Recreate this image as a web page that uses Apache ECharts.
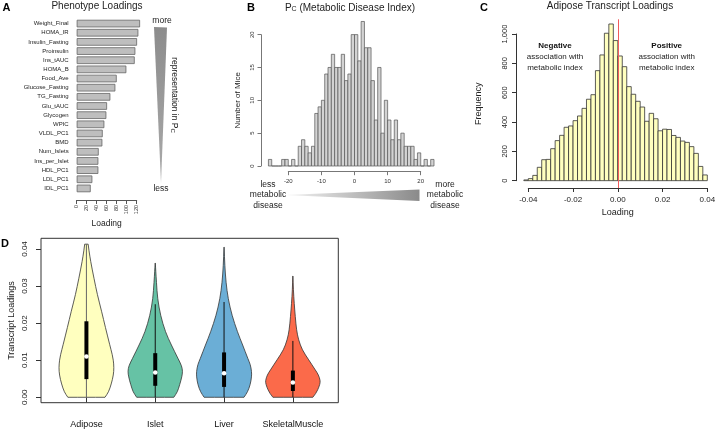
<!DOCTYPE html>
<html>
<head>
<meta charset="utf-8">
<script src="https://cdn.jsdelivr.net/npm/echarts@6/dist/echarts.min.js"></script>
<style>
  html, body { margin: 0; padding: 0; background: #fff; }
  #main { width: 720px; height: 433px; }
</style>
</head>
<body>
<div id="main"></div>
<script>
// ---- Panel A: phenotype loadings
const phenoNames = ['Weight_Final', 'HOMA_IR', 'Insulin_Fasting', 'Proinsulin', 'Ins_tAUC', 'HOMA_B',
  'Food_Ave', 'Glucose_Fasting', 'TG_Fasting', 'Glu_tAUC', 'Glycogen', 'WPIC', 'VLDL_PC1', 'BMD',
  'Num_Islets', 'Ins_per_Islet', 'HDL_PC1', 'LDL_PC1', 'IDL_PC1'];
const phenoLoadings = [126.7, 123.3, 120.7, 117.3, 116, 99.3, 80, 77.3, 67.3, 60.7, 59.3, 55.3, 52, 51.3,
  44, 43.3, 43.3, 31.3, 28];

// ---- Panel B: Pc histogram (bins of width 1 starting at -26)
const pcBinStart = -26;
const pcBinWidth = 1;
const pcCounts = [1, 0, 0, 0, 1, 1, 0, 1, 0, 3, 4, 3, 2, 3, 8, 9, 10, 14, 15, 17, 15, 15, 17, 13, 14,
  20, 20, 16, 22, 18, 18, 13, 7, 15, 5, 10, 7, 4, 7, 4, 5, 3, 3, 3, 1, 2, 0, 1, 0, 1];

// ---- Panel C: adipose transcript loadings (bins of width 0.002 starting at -0.042)
const adBinStart = -0.042;
const adBinWidth = 0.002;
const adCounts = [5, 14, 36, 91, 143, 145, 218, 273, 309, 364, 373, 409, 441, 493, 555, 586, 750, 857,
  1005, 1068, 955,
  850, 777, 641, 589, 541, 502, 405, 459, 422, 340, 351, 349, 308, 295, 270, 261, 232, 186, 97, 39];

// ---- Panel D: violins, [loading, half width]
const tissues = ['Adipose', 'Islet', 'Liver', 'SkeletalMuscle'];
const tissueColors = ['#FFFFBF', '#66C2A5', '#6BAED6', '#FB6A4A'];
const adiposeShape = [[0, 0.27], [0.0015, 0.32], [0.0036, 0.36], [0.006, 0.39], [0.008, 0.398],
  [0.010, 0.39], [0.0115, 0.375], [0.0143, 0.337], [0.0188, 0.277], [0.0232, 0.22], [0.0277, 0.16],
  [0.0321, 0.11], [0.0366, 0.063], [0.0395, 0.038], [0.0413, 0.025]];
const isletShape = [[0, 0.27], [0.0015, 0.32], [0.0034, 0.355], [0.0055, 0.385], [0.007, 0.395],
  [0.0085, 0.38], [0.0105, 0.33], [0.0141, 0.235], [0.0177, 0.15], [0.0221, 0.08], [0.0266, 0.037],
  [0.031, 0.018], [0.034, 0.008], [0.0362, 0.001]];
const liverShape = [[0, 0.29], [0.0015, 0.34], [0.0034, 0.378], [0.0055, 0.398], [0.007, 0.398],
  [0.0088, 0.38], [0.0105, 0.345], [0.0141, 0.27], [0.0177, 0.195], [0.0221, 0.118], [0.0266, 0.062],
  [0.031, 0.03], [0.0355, 0.012], [0.0405, 0.001]];
const muscleShape = [[0, 0.29], [0.001, 0.33], [0.002, 0.36], [0.0035, 0.39], [0.0045, 0.395],
  [0.006, 0.37], [0.0074, 0.325], [0.0101, 0.23], [0.0128, 0.14], [0.0155, 0.085], [0.0182, 0.055],
  [0.0218, 0.035], [0.0253, 0.02], [0.029, 0.008], [0.0327, 0.001]];
const violinShapes = [adiposeShape, isletShape, liverShape, muscleShape];
// [low whisker, q1, median, q3, high whisker]
const boxStats = [
  [0, 0.0049, 0.0110, 0.0205, 0.0413],
  [0, 0.0031, 0.0067, 0.0119, 0.0251],
  [0, 0.0028, 0.0065, 0.0121, 0.0257],
  [0, 0.0017, 0.0040, 0.0072, 0.0152]
];
const loadingTicksD = [0, 0.01, 0.02, 0.03, 0.04];

const FONT = 'Liberation Sans, Arial, Helvetica, sans-serif';
const chart = echarts.init(document.getElementById('main'));

function histItem(fill, stroke, lw) {
  return function (params, api) {
    const a = api.coord([api.value(0), api.value(2)]);
    const b = api.coord([api.value(1), 0]);
    return {
      type: 'rect',
      shape: {x: a[0], y: a[1], width: b[0] - a[0], height: b[1] - a[1]},
      style: {fill: fill, stroke: stroke, lineWidth: lw}
    };
  };
}

function binData(start, width, counts) {
  return counts.map((c, i) => [start + i * width, start + (i + 1) * width, c]);
}

const boxHalf = 0.029;
function violinItem(params, api) {
  const i = params.dataIndex;
  const c = api.value(0);
  const shape = violinShapes[i];
  const n = shape.length;
  const pts = [];
  // right side bottom -> top, left side top -> bottom; end points doubled to keep corners sharp
  for (let k = 0; k < n; k++) {
    const p = api.coord([c + shape[k][1], shape[k][0]]);
    pts.push(p);
    if (k === 0 || k === n - 1) pts.push(p.slice());
  }
  for (let k = n - 1; k >= 0; k--) {
    const p = api.coord([c - shape[k][1], shape[k][0]]);
    pts.push(p);
    if (k === 0 || k === n - 1) pts.push(p.slice());
  }
  const s = boxStats[i];
  const lo = api.coord([c, s[0]]), hi = api.coord([c, s[4]]);
  const b1 = api.coord([c - boxHalf, s[3]]), b2 = api.coord([c + boxHalf, s[1]]);
  const m = api.coord([c, s[2]]);
  return {
    type: 'group',
    children: [
      {type: 'polygon', shape: {points: pts, smooth: 0.35},
        style: {fill: tissueColors[i], stroke: '#333', lineWidth: 0.8}},
      {type: 'line', shape: {x1: lo[0], y1: lo[1], x2: hi[0], y2: hi[1]},
        style: {stroke: i === 0 ? '#666' : '#111', lineWidth: 1}},
      {type: 'rect', shape: {x: b1[0], y: b1[1], width: b2[0] - b1[0], height: b2[1] - b1[1]},
        style: {fill: '#000'}},
      {type: 'circle', shape: {cx: m[0], cy: m[1], r: 2.3}, style: {fill: '#fff'}}
    ]
  };
}

const hidden = (gi, extra) => Object.assign({gridIndex: gi, type: 'value', show: false}, extra || {});
const gridBase = {containLabel: false, outerBoundsMode: 'none'};
const tickStyle = (color, len) => ({show: true, length: len, lineStyle: {color: color, width: 1}});

const option = {
  animation: false,
  textStyle: {fontFamily: FONT},
  grid: [
    // 0: A bars
    Object.assign({left: 76.7, top: 19, width: 65, height: 174}, gridBase),
    // 1: A x-axis
    Object.assign({left: 76.7, top: 199, width: 60, height: 1}, gridBase),
    // 2: B bars
    Object.assign({left: 265.1, top: 14.9, width: 172.2, height: 151.1}, gridBase),
    // 3: B y-axis
    Object.assign({left: 261, top: 34.7, width: 1, height: 131.3}, gridBase),
    // 4: B x-axis
    Object.assign({left: 288.3, top: 170.7, width: 132.4, height: 1}, gridBase),
    // 5: C bars
    Object.assign({left: 519.35, top: 19.3, width: 196.9, height: 168.7}, gridBase),
    // 6: C y-axis
    Object.assign({left: 516, top: 34, width: 1, height: 146.7}, gridBase),
    // 7: C x-axis
    Object.assign({left: 528.3, top: 187, width: 179, height: 1}, gridBase),
    // 8: D violins
    Object.assign({left: 41, top: 238.3, width: 297.3, height: 164.4, show: true,
      borderColor: '#333', borderWidth: 1, backgroundColor: 'transparent'}, gridBase)
  ],
  xAxis: [
    hidden(0, {min: 0, max: 130}),
    {gridIndex: 1, type: 'value', min: 0, max: 120, interval: 20,
      axisLine: {lineStyle: {color: '#555', width: 1}}, axisTick: tickStyle('#555', 4),
      axisLabel: {rotate: 90, fontSize: 5.5, margin: 5, color: '#333'}, splitLine: {show: false},
      name: 'Loading', nameLocation: 'middle', nameGap: 19,
      nameTextStyle: {fontSize: 8.5, color: '#222'}},
    hidden(2, {min: -27, max: 25}),
    hidden(3),
    {gridIndex: 4, type: 'value', min: -20, max: 20, interval: 10,
      axisLine: {lineStyle: {color: '#777', width: 1}}, axisTick: tickStyle('#777', 3.5),
      axisLabel: {fontSize: 6, margin: 7, color: '#333'}, splitLine: {show: false}},
    hidden(5, {min: -0.044, max: 0.044}),
    hidden(6),
    {gridIndex: 7, type: 'value', min: -0.04, max: 0.04, interval: 0.02,
      axisLine: {lineStyle: {color: '#333', width: 1}}, axisTick: tickStyle('#333', 4),
      axisLabel: {fontSize: 8, margin: 8, color: '#222', formatter: v => v.toFixed(2)},
      splitLine: {show: false},
      name: 'Loading', nameLocation: 'middle', nameGap: 20,
      nameTextStyle: {fontSize: 9, color: '#222'}},
    {gridIndex: 8, type: 'value', min: 0.34, max: 4.66,
      axisLine: {show: false},
      axisTick: {show: true, length: 5, lineStyle: {color: '#333'}, customValues: [1, 2, 3, 4]},
      axisLabel: {fontSize: 9, margin: 17, color: '#111', customValues: [1, 2, 3, 4],
        formatter: v => tissues[Math.round(v) - 1]},
      splitLine: {show: false}}
  ],
  yAxis: [
    {gridIndex: 0, type: 'category', data: phenoNames, inverse: true,
      axisLine: {show: false}, axisTick: {show: false},
      axisLabel: {fontSize: 6, margin: 8, color: '#222'}},
    hidden(1),
    hidden(2, {min: 0, max: 23}),
    {gridIndex: 3, type: 'value', min: 0, max: 20, interval: 5,
      axisLine: {show: true, lineStyle: {color: '#777', width: 1}}, axisTick: tickStyle('#777', 3.5),
      axisLabel: {rotate: 90, fontSize: 6, margin: 6, color: '#333'}, splitLine: {show: false},
      name: 'Number of Mice', nameLocation: 'middle', nameGap: 19,
      nameTextStyle: {fontSize: 8, color: '#222'}},
    hidden(4),
    {gridIndex: 5, type: 'value', min: -50, max: 1100,
      axisLine: {show: false}, axisTick: {show: false}, axisLabel: {show: false},
      splitLine: {show: false},
      name: 'Frequency', nameLocation: 'middle', nameGap: 36,
      nameTextStyle: {fontSize: 9, color: '#222'}},
    {gridIndex: 6, type: 'value', min: 0, max: 1000, interval: 200,
      axisLine: {show: true, lineStyle: {color: '#333', width: 1}}, axisTick: tickStyle('#333', 4),
      axisLabel: {rotate: 90, fontSize: 7.5, margin: 7, color: '#222'}, splitLine: {show: false}},
    hidden(7),
    {gridIndex: 8, type: 'value', min: -0.00146, max: 0.04288,
      axisLine: {show: false},
      axisTick: {show: true, length: 5, lineStyle: {color: '#333'}, customValues: loadingTicksD},
      axisLabel: {rotate: 90, fontSize: 8, margin: 12, color: '#222', customValues: loadingTicksD,
        formatter: v => v.toFixed(2)},
      splitLine: {show: false},
      name: 'Transcript Loadings', nameLocation: 'middle', nameGap: 25,
      nameTextStyle: {fontSize: 9, color: '#222'}}
  ],
  series: [
    {type: 'bar', xAxisIndex: 0, yAxisIndex: 0, data: phenoLoadings, barCategoryGap: '17%',
      itemStyle: {color: '#BEBEBE', borderColor: '#666', borderWidth: 0.8}, silent: true},
    {type: 'custom', xAxisIndex: 2, yAxisIndex: 2, renderItem: histItem('#D3D3D3', '#555', 0.7),
      encode: {x: [0, 1], y: 2}, data: binData(pcBinStart, pcBinWidth, pcCounts), silent: true},
    {type: 'custom', xAxisIndex: 5, yAxisIndex: 5, renderItem: histItem('#FFFFBF', '#333', 0.8),
      encode: {x: [0, 1], y: 2}, data: binData(adBinStart, adBinWidth, adCounts), silent: true},
    {type: 'line', xAxisIndex: 5, yAxisIndex: 5, data: [], silent: true,
      markLine: {symbol: 'none', silent: true, label: {show: false},
        lineStyle: {color: '#F25C5C', width: 1, type: 'solid'}, data: [{xAxis: 0}]}},
    {type: 'custom', xAxisIndex: 8, yAxisIndex: 8, renderItem: violinItem, silent: true,
      encode: {x: 0, y: 1}, data: tissues.map((t, i) => [i + 1, boxStats[i][4]])}
  ],
  graphic: [
    // panel letters
    {type: 'text', x: 6.5, y: 8, style: {text: 'A', fontFamily: FONT, fontSize: 11, fontWeight: 'bold', fill: '#000', align: 'center', verticalAlign: 'middle'}},
    {type: 'text', x: 251, y: 8, style: {text: 'B', fontFamily: FONT, fontSize: 11, fontWeight: 'bold', fill: '#000', align: 'center', verticalAlign: 'middle'}},
    {type: 'text', x: 484, y: 8, style: {text: 'C', fontFamily: FONT, fontSize: 11, fontWeight: 'bold', fill: '#000', align: 'center', verticalAlign: 'middle'}},
    {type: 'text', x: 5, y: 244, style: {text: 'D', fontFamily: FONT, fontSize: 11, fontWeight: 'bold', fill: '#000', align: 'center', verticalAlign: 'middle'}},
    // titles
    {type: 'text', x: 97, y: 6.5, style: {text: 'Phenotype Loadings', fontFamily: FONT, fontSize: 10, fill: '#222', align: 'center', verticalAlign: 'middle'}},
    {type: 'text', x: 350, y: 8, style: {text: '{p|P}{s|C}{t| (Metabolic Disease Index)}', fontFamily: FONT, fill: '#222', align: 'center', verticalAlign: 'middle',
      rich: {p: {fontSize: 10, fontFamily: FONT, fill: '#222'}, s: {fontSize: 7, fontFamily: FONT, fill: '#222', verticalAlign: 'bottom'}, t: {fontSize: 10, fontFamily: FONT, fill: '#222'}}}},
    {type: 'text', x: 610, y: 6, style: {text: 'Adipose Transcript Loadings', fontFamily: FONT, fontSize: 10, fill: '#222', align: 'center', verticalAlign: 'middle'}},
    // panel A wedge
    {type: 'polygon', shape: {points: [[154, 27], [167, 27.5], [161, 183]]},
      style: {fill: new echarts.graphic.LinearGradient(0, 0, 0, 1, [{offset: 0, color: '#8c8c8c'}, {offset: 1, color: '#aaaaaa'}])}},
    {type: 'text', x: 162, y: 20.5, style: {text: 'more', fontFamily: FONT, fontSize: 8.5, fill: '#222', align: 'center', verticalAlign: 'middle'}},
    {type: 'text', x: 161, y: 189, style: {text: 'less', fontFamily: FONT, fontSize: 8.5, fill: '#222', align: 'center', verticalAlign: 'middle'}},
    {type: 'text', x: 174, y: 95, rotation: -Math.PI / 2,
      style: {text: '{a|representation in P}{s|C}', fontFamily: FONT, fill: '#222', align: 'center', verticalAlign: 'middle',
        rich: {a: {fontSize: 8.5, fontFamily: FONT, fill: '#222'}, s: {fontSize: 6, fontFamily: FONT, fill: '#222', verticalAlign: 'bottom'}}}},
    // panel B wedge
    {type: 'polygon', shape: {points: [[285, 195], [419.5, 189.5], [419.5, 201]]},
      style: {fill: new echarts.graphic.LinearGradient(0, 0, 1, 0, [{offset: 0, color: '#f4f4f4'}, {offset: 1, color: '#8a8a8a'}])}},
    {type: 'text', x: 268, y: 195, style: {text: 'less\nmetabolic\ndisease', fontFamily: FONT, fontSize: 8.5, lineHeight: 10.5, fill: '#222', align: 'center', verticalAlign: 'middle'}},
    {type: 'text', x: 445, y: 195, style: {text: 'more\nmetabolic\ndisease', fontFamily: FONT, fontSize: 8.5, lineHeight: 10.5, fill: '#222', align: 'center', verticalAlign: 'middle'}},
    // panel C annotations
    {type: 'text', x: 555, y: 56.5, style: {text: '{b|Negative}\nassociation with\nmetabolic index', fontFamily: FONT, fontSize: 8, lineHeight: 11, fill: '#222', align: 'center', verticalAlign: 'middle',
      rich: {b: {fontWeight: 'bold', fontSize: 8, fontFamily: FONT, fill: '#111', lineHeight: 11}}}},
    {type: 'text', x: 666.7, y: 56.5, style: {text: '{b|Positive}\nassociation with\nmetabolic index', fontFamily: FONT, fontSize: 8, lineHeight: 11, fill: '#222', align: 'center', verticalAlign: 'middle',
      rich: {b: {fontWeight: 'bold', fontSize: 8, fontFamily: FONT, fill: '#111', lineHeight: 11}}}}
  ]
};

chart.setOption(option);
</script>
</body>
</html>
